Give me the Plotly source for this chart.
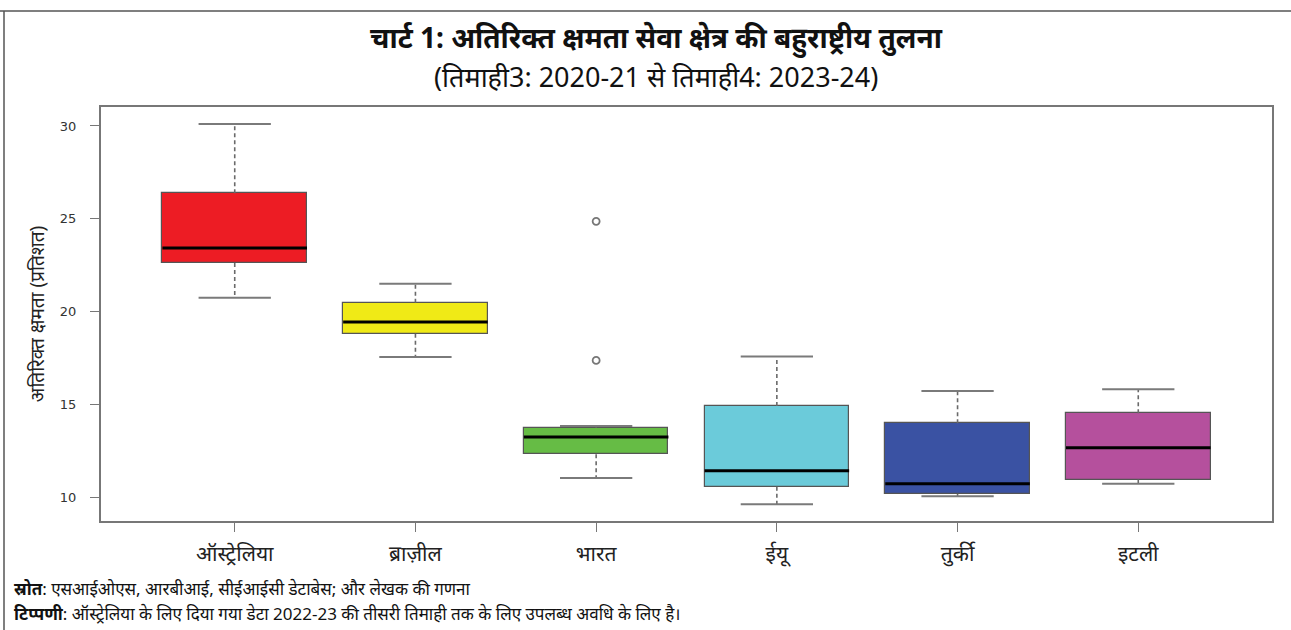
import plotly.graph_objects as go

# Box statistics per country (excess capacity, per cent)
countries = ["ऑस्ट्रेलिया", "ब्राज़ील", "भारत", "ईयू", "तुर्की", "इटली"]
lower_whisker = [20.75, 17.56, 11.04, 9.62, 10.05, 10.72]
q1 = [22.62, 18.80, 12.31, 10.57, 10.18, 10.95]
median = [23.42, 19.44, 13.24, 11.42, 10.73, 12.67]
q3 = [26.38, 20.47, 13.74, 14.91, 13.98, 14.52]
upper_whisker = [30.10, 21.50, 13.84, 17.58, 15.72, 15.82]
outlier_country = ["भारत", "भारत"]
outlier_value = [24.86, 17.37]
box_colors = ["#ED1C24", "#F0EA16", "#66BC45", "#6BCBDA", "#3A52A3", "#B5509D"]

pos = list(range(len(countries)))
box_w = 0.8
cap_w = 0.4

fig = go.Figure()

# dashed whiskers
wx, wy = [], []
for i in pos:
    wx += [i, i, None, i, i, None]
    wy += [q3[i], upper_whisker[i], None, q1[i], lower_whisker[i], None]
fig.add_trace(go.Scatter(x=wx, y=wy, mode="lines",
                         line=dict(color="#6a6a6a", width=1.6, dash="4px,3px"),
                         hoverinfo="skip", showlegend=False))

# whisker caps
cx, cy = [], []
for i in pos:
    cx += [i - cap_w / 2, i + cap_w / 2, None, i - cap_w / 2, i + cap_w / 2, None]
    cy += [upper_whisker[i], upper_whisker[i], None, lower_whisker[i], lower_whisker[i], None]
fig.add_trace(go.Scatter(x=cx, y=cy, mode="lines",
                         line=dict(color="#7a7a7a", width=2),
                         hoverinfo="skip", showlegend=False))

# boxes (q1 to q3)
fig.add_trace(go.Bar(x=pos, y=[q3[i] - q1[i] for i in pos], base=q1, width=box_w,
                     marker=dict(color=box_colors, line=dict(color="#555555", width=1.2)),
                     hoverinfo="skip", showlegend=False))

# medians
mx, my = [], []
for i in pos:
    mx += [i - box_w / 2, i + box_w / 2, None]
    my += [median[i], median[i], None]
fig.add_trace(go.Scatter(x=mx, y=my, mode="lines",
                         line=dict(color="#000000", width=3),
                         hoverinfo="skip", showlegend=False))

# outliers
fig.add_trace(go.Scatter(x=[countries.index(c) for c in outlier_country], y=outlier_value,
                         mode="markers",
                         marker=dict(symbol="circle-open", size=7, color="#777777",
                                     line=dict(width=1.8)),
                         hoverinfo="skip", showlegend=False))

font_main = "Noto Sans, Roboto, sans-serif"

fig.update_layout(
    width=1291, height=630,
    margin=dict(l=101, r=19, t=107, b=109),
    paper_bgcolor="white", plot_bgcolor="white",
    font=dict(family=font_main, color="#222222"),
    bargap=0,
    xaxis=dict(range=[-0.74, 5.74], tickmode="array", tickvals=pos, ticktext=countries,
               showgrid=False, zeroline=False, showline=True, mirror=True,
               linecolor="#777777", linewidth=2,
               ticks="outside", ticklen=9, tickwidth=1.2, tickcolor="#777777",
               tickfont=dict(size=21, color="#222222"), ticklabelstandoff=4),
    yaxis=dict(range=[8.72, 31.02], tickvals=[10, 15, 20, 25, 30],
               showgrid=False, zeroline=False, showline=True, mirror=True,
               linecolor="#777777", linewidth=2,
               ticks="outside", ticklen=9, tickwidth=1.2, tickcolor="#777777",
               tickfont=dict(size=13, color="#333333", family="DejaVu Sans"),
               ticklabelstandoff=11,
               title=dict(text="अतिरिक्त क्षमता (प्रतिशत)", font=dict(size=19, color="#222222"),
                          standoff=10)),
    shapes=[
        dict(type="line", xref="paper", yref="paper", x0=-101 / 1171, x1=1.1, y0=1 + 96 / 414, y1=1 + 96 / 414,
             line=dict(color="#555555", width=1.5)),
        dict(type="line", xref="paper", yref="paper", x0=-97 / 1171, x1=-97 / 1171, y0=-0.3, y1=1 + 96 / 414,
             line=dict(color="#555555", width=1.5)),
    ],
    annotations=[
        dict(text="<b>चार्ट 1: अतिरिक्त क्षमता सेवा क्षेत्र की बहुराष्ट्रीय तुलना</b>",
             xref="paper", yref="paper", x=0.474, y=1 + 69 / 414, xanchor="center", yanchor="middle",
             showarrow=False, font=dict(size=28, color="#111111")),
        dict(text="(तिमाही3: 2020-21 से तिमाही4: 2023-24)",
             xref="paper", yref="paper", x=0.474, y=1 + 30 / 414, xanchor="center", yanchor="middle",
             showarrow=False, font=dict(size=27, color="#111111")),
        dict(text="<b>स्रोत</b>: एसआईओएस, आरबीआई, सीईआईसी डेटाबेस; और लेखक की गणना",
             xref="paper", yref="paper", x=-89 / 1171, y=-67 / 414, xanchor="left", yanchor="middle",
             showarrow=False, font=dict(size=17, color="#111111")),
        dict(text="<b>टिप्पणी</b>: ऑस्ट्रेलिया के लिए दिया गया डेटा 2022-23 की तीसरी तिमाही तक के लिए उपलब्ध अवधि के लिए है।",
             xref="paper", yref="paper", x=-89 / 1171, y=-92 / 414, xanchor="left", yanchor="middle",
             showarrow=False, font=dict(size=17, color="#111111")),
    ],
)

fig.write_html("out.html")
